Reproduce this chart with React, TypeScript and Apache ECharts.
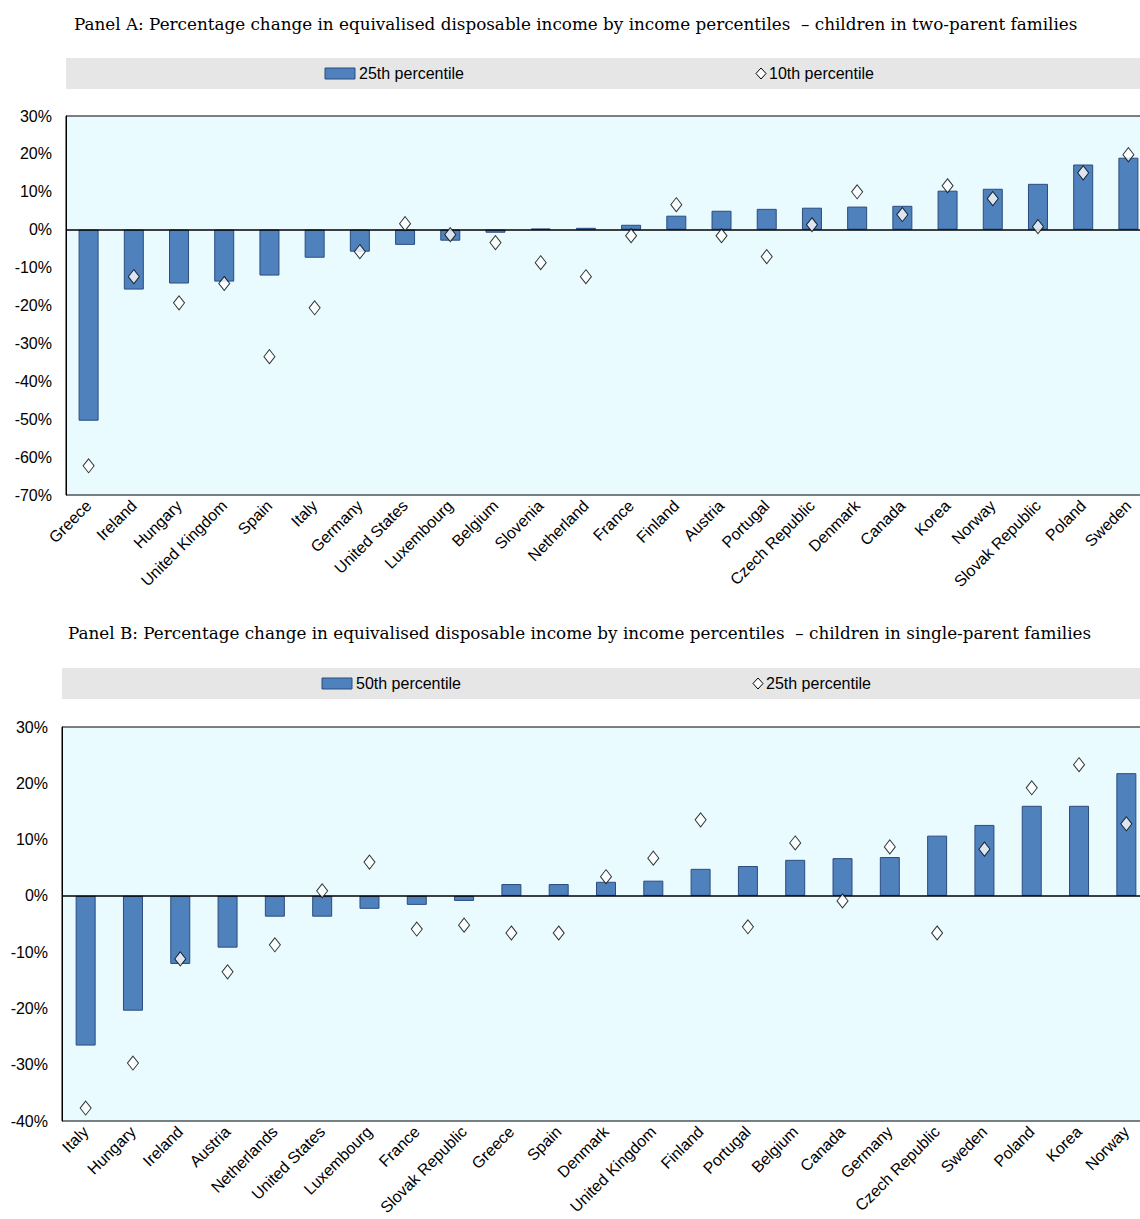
import { useEffect, useRef } from "react";
import * as echarts from "echarts";

const catsA = ["Greece", "Ireland", "Hungary", "United Kingdom", "Spain", "Italy", "Germany", "United States", "Luxembourg", "Belgium", "Slovenia", "Netherland", "France", "Finland", "Austria", "Portugal", "Czech Republic", "Denmark", "Canada", "Korea", "Norway", "Slovak Republic", "Poland", "Sweden"];
const p25A = [-50.4, -15.8, -14.2, -13.7, -12.1, -7.4, -5.8, -4.0, -2.9, -0.8, 0.3, 0.5, 1.3, 3.7, 5.0, 5.5, 5.8, 6.1, 6.3, 10.3, 10.8, 12.1, 17.2, 19.0];
const p10A = [-62.3, -12.4, -19.3, -14.2, -33.5, -20.6, -5.8, 1.6, -1.3, -3.4, -8.7, -12.4, -1.6, 6.6, -1.6, -7.1, 1.3, 10.0, 4.0, 11.6, 8.2, 0.8, 15.0, 19.8];

const catsB = ["Italy", "Hungary", "Ireland", "Austria", "Netherlands", "United States", "Luxembourg", "France", "Slovak Republic", "Greece", "Spain", "Denmark", "United Kingdom", "Finland", "Portugal", "Belgium", "Canada", "Germany", "Czech Republic", "Sweden", "Poland", "Korea", "Norway"];
const p50B = [-26.6, -20.4, -12.1, -9.2, -3.7, -3.7, -2.3, -1.6, -0.9, 2.1, 2.1, 2.5, 2.7, 4.8, 5.3, 6.4, 6.7, 6.9, 10.7, 12.6, 16.0, 16.0, 21.8];
const p25B = [-37.7, -29.7, -11.2, -13.5, -8.7, 0.9, 6.0, -5.9, -5.2, -6.6, -6.6, 3.4, 6.7, 13.5, -5.5, 9.4, -0.9, 8.7, -6.6, 8.3, 19.2, 23.3, 12.8];

const titleA = "Panel A: Percentage change in equivalised disposable income by income percentiles  \u2013 children in two-parent families";
const titleB = "Panel B: Percentage change in equivalised disposable income by income percentiles  \u2013 children in single-parent families";

const SANS = "'Liberation Sans Narrow', 'Liberation Sans', Arial, sans-serif";
const SERIF = "'DejaVu Serif', 'Liberation Serif', serif";
const BAR = "#4F81BD";
const BARLINE = "#2B4C7E";

function legendBox(x: number, y: number, w: number, barLabel: string, barX: number, dLabel: string, dX: number) {
  return [
    { type: "rect", shape: { x, y, width: w, height: 31 }, style: { fill: "#E6E6E6" } },
    { type: "rect", shape: { x: barX, y: y + 10, width: 30, height: 11 }, style: { fill: BAR, stroke: BARLINE, lineWidth: 1 } },
    { type: "text", x: barX + 34, y: y + 15.5, style: { text: barLabel, font: `16px ${SANS}`, fill: "#000", verticalAlign: "middle" } },
    { type: "polygon", shape: { points: [[dX, y + 10], [dX + 5, y + 15.5], [dX, y + 21], [dX - 5, y + 15.5]] }, style: { fill: "#fff", stroke: "#000", lineWidth: 1 } },
    { type: "text", x: dX + 8, y: y + 15.5, style: { text: dLabel, font: `16px ${SANS}`, fill: "#000", verticalAlign: "middle" } },
  ];
}

export default function App() {
  const ref = useRef<HTMLDivElement | null>(null);

  useEffect(() => {
    const chart = echarts.init(ref.current!, undefined, { renderer: "svg" });
    const grid = (left: number, top: number, height: number, width: number) => ({
      left, top, height, width, show: true, backgroundColor: "#EAFBFF", borderColor: "#000", borderWidth: 1,
    });
    const xAxis = (idx: number, data: string[]) => ({
      type: "category", gridIndex: idx, data,
      axisLine: { show: false }, axisTick: { show: false },
      axisLabel: { rotate: 45, interval: 0, fontFamily: SANS, fontSize: 16, color: "#000", margin: 8 },
    });
    const yAxis = (idx: number, min: number, max: number) => ({
      type: "value", gridIndex: idx, min, max, interval: 10,
      splitLine: { show: false },
      axisLine: { show: true, lineStyle: { color: "#000" } },
      axisTick: { show: false },
      axisLabel: { formatter: (v: number) => `${v}%`, fontFamily: SANS, fontSize: 16, color: "#000", margin: 14 },
    });
    const bars = (idx: number, data: number[], name: string) => ({
      type: "bar", name, xAxisIndex: idx, yAxisIndex: idx, data, barWidth: 20,
      itemStyle: { color: BAR, borderColor: BARLINE, borderWidth: 1 },
      markLine: { silent: true, symbol: "none", label: { show: false }, lineStyle: { color: "#000", type: "solid", width: 1.5 }, data: [{ yAxis: 0 }] },
    });
    const diamonds = (idx: number, data: number[], name: string) => ({
      type: "scatter", name, xAxisIndex: idx, yAxisIndex: idx, data, symbol: "diamond", symbolSize: [11, 14],
      itemStyle: { color: "#fff", borderColor: "#000", borderWidth: 1 }, z: 5,
    });
    chart.setOption({
      animation: false,
      grid: [grid(66, 116, 379, 1085), grid(62, 727, 394, 1088)],
      xAxis: [xAxis(0, catsA), xAxis(1, catsB)],
      yAxis: [yAxis(0, -70, 30), yAxis(1, -40, 30)],
      series: [bars(0, p25A, "25th percentile"), diamonds(0, p10A, "10th percentile"), bars(1, p50B, "50th percentile"), diamonds(1, p25B, "25th percentile B")],
      graphic: [
        { type: "text", x: 74, y: 24, style: { text: titleA, font: `16.8px ${SERIF}`, fill: "#000", verticalAlign: "middle" } },
        { type: "text", x: 68, y: 633, style: { text: titleB, font: `16.8px ${SERIF}`, fill: "#000", verticalAlign: "middle" } },
        ...legendBox(66, 58, 1094, "25th percentile", 325, "10th percentile", 761),
        ...legendBox(62, 668, 1098, "50th percentile", 322, "25th percentile", 758),
      ],
    });
    return () => chart.dispose();
  }, []);

  return (
    <div style={{ position: "absolute", left: 0, top: 0, width: 1140, height: 1219, overflow: "hidden" }}>
      <div ref={ref} style={{ width: 1160, height: 1219 }} />
    </div>
  );
}
